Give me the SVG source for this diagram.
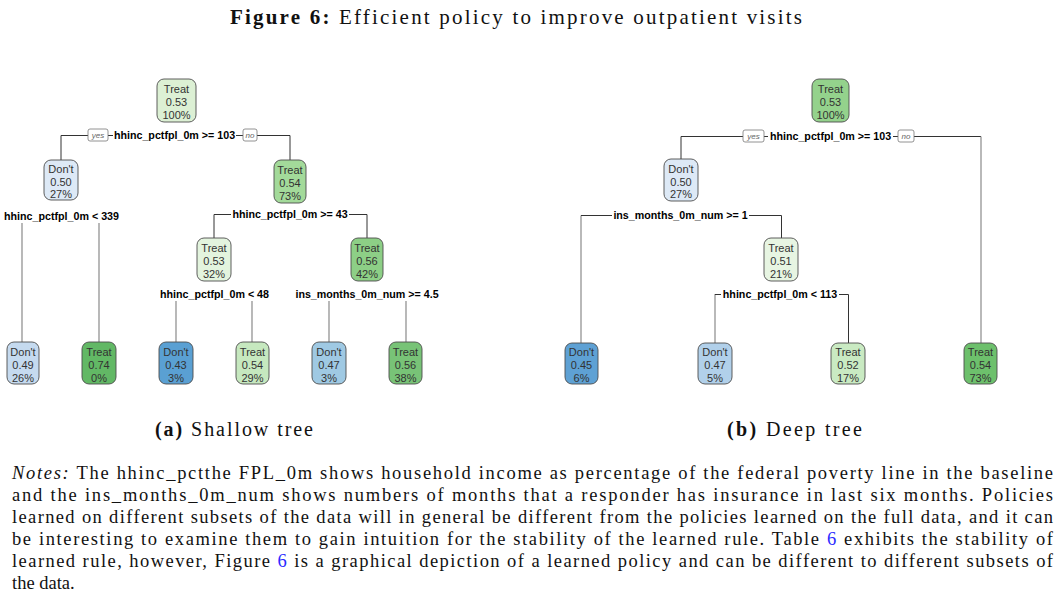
<svg xmlns="http://www.w3.org/2000/svg" width="1062" height="598" viewBox="0 0 1062 598">
<style>
.nb{stroke:#4d4d4d;stroke-width:0.9}
.nt{font-family:"Liberation Sans",Arial,sans-serif;font-size:11px;fill:#333;text-anchor:middle}
.sl{font-family:"Liberation Sans",Arial,sans-serif;font-size:10.7px;font-weight:bold;text-anchor:middle;fill:#000}
.lb{fill:#fff}
.yb{fill:#fff;stroke:#777;stroke-width:0.8}
.yt{font-family:"Liberation Sans",Arial,sans-serif;font-size:8px;font-style:italic;fill:#666;text-anchor:middle}
.c{stroke:#333;fill:none;stroke-width:1}
.cg{stroke:#8a8a8a;fill:none;stroke-width:1.2}
.ser{font-family:"Liberation Serif","Times New Roman",serif;fill:#111}
.blue{fill:#2b2bff}
</style>
<rect width="1062" height="598" fill="#fff"/>
<text class="ser" x="516" y="24" text-anchor="middle" font-size="21" textLength="572" lengthAdjust="spacing"><tspan font-weight="bold">Figure 6:</tspan> Efficient policy to improve outpatient visits</text>

<g id="connectors">
<!-- left tree -->
<path class="c" d="M61,160 V135.5 H290 V160"/>
<path class="c" d="M214,238 V214.5 H367 V238"/>
<path class="cg" d="M22,342 V220 H99 V342"/>
<path class="cg" d="M176,342 V294 H252 V342"/>
<path class="cg" d="M329,342 V294 H406 V342"/>
<!-- right tree -->
<path class="c" d="M681,159 V136.5 H981"/>
<path class="cg" d="M981,136.5 V343"/>
<path class="cg" d="M581,343 V215.5"/>
<path class="c" d="M581,215.5 H781.5 V238"/>
<path class="cg" d="M715,343 V294"/>
<path class="c" d="M715,294.5 H848.5 V343"/>
</g>

<g id="split-labels">
<!-- left -->
<rect class="yb" x="88" y="129" width="20" height="12" rx="2"/><text class="yt" x="98" y="138">yes</text>
<rect class="lb" x="113" y="129" width="123" height="13"/><text class="sl" x="174.5" y="139">hhinc_pctfpl_0m &gt;= 103</text>
<rect class="yb" x="243" y="129" width="14" height="12" rx="2"/><text class="yt" x="250" y="138">no</text>
<rect class="lb" x="2" y="209" width="120" height="14"/><text class="sl" x="61.5" y="220">hhinc_pctfpl_0m &lt; 339</text>
<rect class="lb" x="231" y="208" width="118" height="13"/><text class="sl" x="290" y="218">hhinc_pctfpl_0m &gt;= 43</text>
<rect class="lb" x="159" y="288" width="111" height="13"/><text class="sl" x="214.5" y="298">hhinc_pctfpl_0m &lt; 48</text>
<rect class="lb" x="293" y="288" width="148" height="13"/><text class="sl" x="367" y="298">ins_months_0m_num &gt;= 4.5</text>
<!-- right -->
<rect class="yb" x="743" y="130" width="21" height="12" rx="2"/><text class="yt" x="753.5" y="139">yes</text>
<rect class="lb" x="768" y="130" width="125" height="13"/><text class="sl" x="830.5" y="140">hhinc_pctfpl_0m &gt;= 103</text>
<rect class="yb" x="898" y="130" width="16" height="12" rx="2"/><text class="yt" x="906" y="139">no</text>
<rect class="lb" x="612" y="209" width="137" height="13"/><text class="sl" x="680.5" y="219">ins_months_0m_num &gt;= 1</text>
<rect class="lb" x="721" y="288" width="118" height="13"/><text class="sl" x="780" y="298">hhinc_pctfpl_0m &lt; 113</text>
</g>

<!-- left tree nodes -->
<g id="L0"><rect class="nb" x="157" y="79" width="39" height="43" rx="7" fill="#dcf0d4"/><text class="nt" x="176.5" y="93">Treat</text><text class="nt" x="176.5" y="106">0.53</text><text class="nt" x="176.5" y="119">100%</text></g>
<g id="L1"><rect class="nb" x="44" y="160" width="34" height="40" rx="7" fill="#dde9f6"/><text class="nt" x="61" y="173">Don't</text><text class="nt" x="61" y="186">0.50</text><text class="nt" x="61" y="198">27%</text></g>
<g id="L2"><rect class="nb" x="274" y="160" width="32" height="43" rx="7" fill="#a3da9a"/><text class="nt" x="290" y="174">Treat</text><text class="nt" x="290" y="187">0.54</text><text class="nt" x="290" y="200">73%</text></g>
<g id="L3"><rect class="nb" x="197" y="238" width="34" height="43" rx="7" fill="#e3f4de"/><text class="nt" x="214" y="252">Treat</text><text class="nt" x="214" y="265">0.53</text><text class="nt" x="214" y="278">32%</text></g>
<g id="L4"><rect class="nb" x="351" y="238" width="32" height="43" rx="7" fill="#8dcf86"/><text class="nt" x="367" y="252">Treat</text><text class="nt" x="367" y="265">0.56</text><text class="nt" x="367" y="278">42%</text></g>
<g id="L5"><rect class="nb" x="7" y="342" width="32" height="42" rx="7" fill="#c5daef"/><text class="nt" x="23" y="356">Don't</text><text class="nt" x="23" y="369">0.49</text><text class="nt" x="23" y="382">26%</text></g>
<g id="L6"><rect class="nb" x="82" y="342" width="34" height="42" rx="7" fill="#62b865"/><text class="nt" x="99" y="356">Treat</text><text class="nt" x="99" y="369">0.74</text><text class="nt" x="99" y="382">0%</text></g>
<g id="L7"><rect class="nb" x="159" y="342" width="34" height="42" rx="7" fill="#5aa0d3"/><text class="nt" x="176" y="356">Don't</text><text class="nt" x="176" y="369">0.43</text><text class="nt" x="176" y="382">3%</text></g>
<g id="L8"><rect class="nb" x="236" y="342" width="33" height="42" rx="7" fill="#c6e8bf"/><text class="nt" x="252.5" y="356">Treat</text><text class="nt" x="252.5" y="369">0.54</text><text class="nt" x="252.5" y="382">29%</text></g>
<g id="L9"><rect class="nb" x="312" y="342" width="34" height="42" rx="7" fill="#9fc9e3"/><text class="nt" x="329" y="356">Don't</text><text class="nt" x="329" y="369">0.47</text><text class="nt" x="329" y="382">3%</text></g>
<g id="L10"><rect class="nb" x="389" y="342" width="33" height="42" rx="7" fill="#78c377"/><text class="nt" x="405.5" y="356">Treat</text><text class="nt" x="405.5" y="369">0.56</text><text class="nt" x="405.5" y="382">38%</text></g>

<!-- right tree nodes -->
<g id="R0"><rect class="nb" x="812" y="79" width="37" height="43" rx="7" fill="#94d28c"/><text class="nt" x="830.5" y="93">Treat</text><text class="nt" x="830.5" y="106">0.53</text><text class="nt" x="830.5" y="119">100%</text></g>
<g id="R1"><rect class="nb" x="664" y="159" width="34" height="42" rx="7" fill="#dde9f6"/><text class="nt" x="681" y="173">Don't</text><text class="nt" x="681" y="186">0.50</text><text class="nt" x="681" y="198">27%</text></g>
<g id="R2"><rect class="nb" x="764" y="238" width="34" height="43" rx="7" fill="#e7f5e2"/><text class="nt" x="781" y="252">Treat</text><text class="nt" x="781" y="265">0.51</text><text class="nt" x="781" y="278">21%</text></g>
<g id="R3"><rect class="nb" x="565" y="343" width="33" height="41" rx="7" fill="#5ea1d4"/><text class="nt" x="581.5" y="356">Don't</text><text class="nt" x="581.5" y="369">0.45</text><text class="nt" x="581.5" y="382">6%</text></g>
<g id="R4"><rect class="nb" x="698" y="343" width="34" height="41" rx="7" fill="#b1d0ea"/><text class="nt" x="715" y="356">Don't</text><text class="nt" x="715" y="369">0.47</text><text class="nt" x="715" y="382">5%</text></g>
<g id="R5"><rect class="nb" x="831" y="343" width="34" height="41" rx="7" fill="#c9eac2"/><text class="nt" x="848" y="356">Treat</text><text class="nt" x="848" y="369">0.52</text><text class="nt" x="848" y="382">17%</text></g>
<g id="R6"><rect class="nb" x="964" y="343" width="33" height="41" rx="7" fill="#6dc06c"/><text class="nt" x="980.5" y="356">Treat</text><text class="nt" x="980.5" y="369">0.54</text><text class="nt" x="980.5" y="382">73%</text></g>

<g id="captions">
<text class="ser" x="155" y="436" font-size="20" textLength="158" lengthAdjust="spacing"><tspan font-weight="bold">(a)</tspan> Shallow tree</text>
<text class="ser" x="727" y="436" font-size="20" textLength="135" lengthAdjust="spacing"><tspan font-weight="bold">(b)</tspan> Deep tree</text>
</g>

<g id="notes" font-size="18.5">
<text class="ser" x="12" y="479" textLength="1041" lengthAdjust="spacing"><tspan font-style="italic">Notes:</tspan> The hhinc_pctthe FPL_0m shows household income as percentage of the federal poverty line in the baseline</text>
<text class="ser" x="12" y="501" textLength="1041" lengthAdjust="spacing">and the ins_months_0m_num shows numbers of months that a responder has insurance in last six months.  Policies</text>
<text class="ser" x="12" y="523" textLength="1041" lengthAdjust="spacing">learned on different subsets of the data will in general be different from the policies learned on the full data, and it can</text>
<text class="ser" x="12" y="545" textLength="1041" lengthAdjust="spacing">be interesting to examine them to gain intuition for the stability of the learned rule.  Table <tspan class="blue">6</tspan> exhibits the stability of</text>
<text class="ser" x="12" y="567" textLength="1041" lengthAdjust="spacing">learned rule, however, Figure <tspan class="blue">6</tspan> is a graphical depiction of a learned policy and can be different to different subsets of</text>
<text class="ser" x="12" y="589">the data.</text>
</g>
</svg>
